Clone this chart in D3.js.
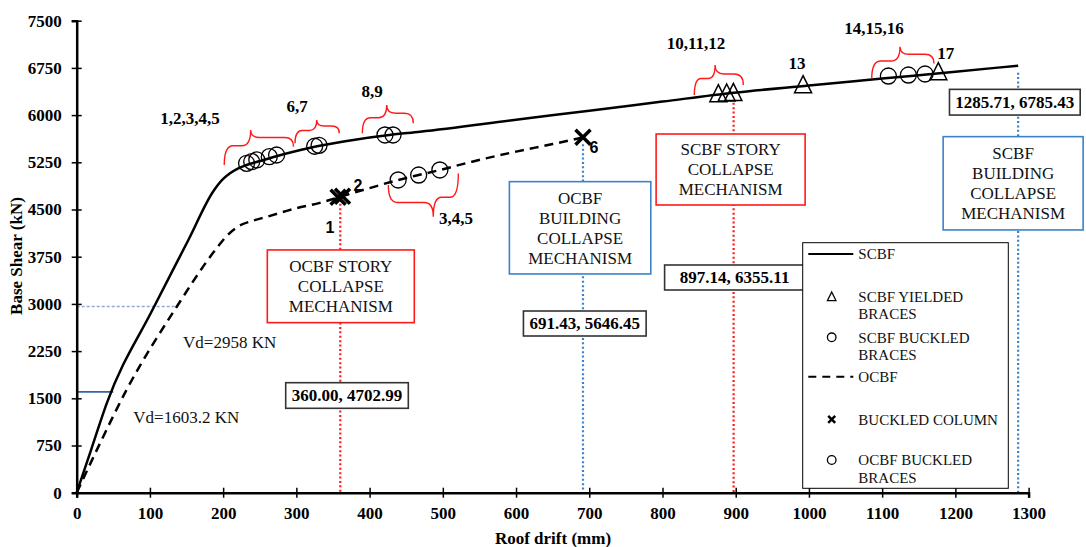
<!DOCTYPE html>
<html>
<head>
<meta charset="utf-8">
<script src="https://cdn.jsdelivr.net/npm/d3@7"></script>
<style>
  body { margin: 0; background: #fff; }
  text { font-family: "Liberation Serif", "Times New Roman", serif; }
</style>
</head>
<body>
<script>
// pushover curves (roof drift mm, base shear kN)
const scbfDrift = [0, 20, 41, 104.6, 152.5, 186.6, 200, 209.4, 220, 232, 250, 275, 300, 330, 380, 427, 469, 600, 700, 800, 897.14, 1000, 1100, 1200, 1285.71];
const scbfShear = [0, 693, 1420, 2930, 4015, 4790, 4985, 5075, 5150, 5207, 5270, 5355, 5430, 5510, 5610, 5684, 5736, 5926, 6070, 6215, 6355.11, 6470, 6580, 6690, 6785.43];
const ocbfDrift = [0, 30, 68, 136.6, 189, 205, 220, 240, 260, 300, 332, 360, 400, 439, 467, 496, 540, 600, 650, 691.43];
const ocbfShear = [0, 740, 1632, 2955, 3853, 4080, 4226, 4320, 4385, 4520, 4605, 4703, 4840, 4969, 5048, 5128, 5260, 5420, 5540, 5646.45];

// events on the curves
const yieldDrift = [876.3, 887.7, 896.8, 992, 1176.7];
const yieldShear = [6335, 6345, 6355, 6478, 6685];
const scbfBuckDrift = [232, 239, 246, 263, 273, 325, 331, 421, 432, 1108.5, 1135.8, 1158.6];
const scbfBuckShear = [5234, 5260, 5287, 5339, 5366, 5505, 5520, 5684, 5684, 6621, 6637, 6653];
const ocbfBuckDrift = [439, 467, 496];
const ocbfBuckShear = [4969, 5048, 5128];
const columnDrift = [357, 363, 691.43];
const columnShear = [4695, 4712, 5646.45];

// event numbering
const groupText = ["1,2,3,4,5", "6,7", "8,9", "3,4,5", "10,11,12", "13", "14,15,16", "17"];
const groupDrift = [154.7, 300.9, 403.3, 518, 845.8, 983.7, 1088.9, 1186.7];
const groupShear = [5953, 6145, 6383, 4362, 7146, 6828, 7384, 6987];
const columnText = ["1", "2", "6"];
const columnLabelDrift = [345.9, 384.2, 706.5];
const columnLabelShear = [4222, 4889, 5493];

// braces: left end, right end, tip (drift, shear)
const braceLeft = [[201.5, 5207], [298.1, 5552], [390.1, 5711], [425.6, 4889], [843.5, 6319], [1085.8, 6580]];
const braceRight = [[296.2, 5498], [358.7, 5711], [459.7, 5870], [521.2, 5074], [910.4, 6478], [1170.8, 6819]];
const braceTip = [[237.6, 5764], [327.8, 5922], [423.4, 6160], [487.0, 4386], [871.8, 6796], [1124.4, 7087]];

// collapse mechanisms
const mechDrift = [360.00, 691.43, 897.14, 1285.71];
const mechShear = [4702.99, 5646.45, 6355.11, 6785.43];
const mechTitle = [
  ["OCBF STORY", "COLLAPSE", "MECHANISM"],
  ["OCBF", "BUILDING", "COLLAPSE", "MECHANISM"],
  ["SCBF STORY", "COLLAPSE", "MECHANISM"],
  ["SCBF", "BUILDING", "COLLAPSE", "MECHANISM"]
];
const mechKind = ["story", "building", "story", "building"];

// design base shears
const vdShear = [1603.2, 2958];
const vdEnd = [50, 136.6];
const vdText = ["Vd=1603.2 KN", "Vd=2958 KN"];
const vdTextDrift = [77.3, 145.2];
const vdTextShear = [1208, 2399];

const xTicks = d3.range(0, 1301, 100);
const yTicks = d3.range(0, 7501, 750);

const RED = "#ff1a1a";
const BLUE = "#3b82c8";

const svg = d3.select("body").append("svg")
  .attr("width", 1086)
  .attr("height", 547);

const x = d3.scaleLinear().domain([0, 1300]).range([76.7, 1028.6]);
const y = d3.scaleLinear().domain([0, 7500]).range([492.7, 20.7]);

// mechanism dotted lines
mechDrift.forEach((d, i) => {
  svg.append("line")
    .attr("x1", x(d)).attr("x2", x(d))
    .attr("y1", y(mechShear[i]) + (i === 2 ? 10 : 7)).attr("y2", y(0))
    .attr("stroke", mechKind[i] === "story" ? RED : BLUE)
    .attr("stroke-width", 2.2)
    .attr("stroke-dasharray", "2,2.4");
});

// boxes (layout in px: offset from line, center y, size)
const titleBox = [[0.5, 286.3, 147, 72.7], [-2.9, 227.8, 141.4, 92.3], [-3, 169.5, 149, 71], [-5, 183.3, 140, 93.3]];
const valueBox = [[6.7, 395.5, 122.6, 25.6], [1.8, 323.5, 122.7, 25], [1, 277.5, 140, 25], [-3.3, 102.2, 130.7, 25.7]];

mechDrift.forEach((d, i) => {
  const [dx, cy, w, h] = titleBox[i];
  const cx = x(d) + dx;
  svg.append("rect")
    .attr("x", cx - w / 2).attr("y", cy - h / 2)
    .attr("width", w).attr("height", h)
    .attr("fill", "#fff")
    .attr("stroke", mechKind[i] === "story" ? RED : BLUE)
    .attr("stroke-width", 1.6);
  const lines = mechTitle[i];
  lines.forEach((t, j) => {
    svg.append("text")
      .attr("x", cx)
      .attr("y", cy + (j - (lines.length - 1) / 2) * 20)
      .attr("dy", "0.35em")
      .attr("text-anchor", "middle")
      .style("font-size", "17px")
      .attr("fill", "#111")
      .text(t);
  });

  const [vdx, vcy, vw, vh] = valueBox[i];
  const vcx = x(d) + vdx;
  svg.append("rect")
    .attr("x", vcx - vw / 2).attr("y", vcy - vh / 2)
    .attr("width", vw).attr("height", vh)
    .attr("fill", "#fff")
    .attr("stroke", "#333")
    .attr("stroke-width", 1.6);
  svg.append("text")
    .attr("x", vcx).attr("y", vcy)
    .attr("dy", "0.35em")
    .attr("text-anchor", "middle")
    .style("font-size", "17px")
    .style("font-weight", "bold")
    .text(d3.format(".2f")(d) + ", " + d3.format(".2f")(mechShear[i]));
});

// design shear lines
svg.append("line")
  .attr("x1", x(0)).attr("x2", x(vdEnd[0]))
  .attr("y1", y(vdShear[0])).attr("y2", y(vdShear[0]))
  .attr("stroke", "#3465a4").attr("stroke-width", 1.8);
svg.append("line")
  .attr("x1", x(0)).attr("x2", x(vdEnd[1]))
  .attr("y1", y(vdShear[1])).attr("y2", y(vdShear[1]))
  .attr("stroke", "#8eaad6").attr("stroke-width", 1.4)
  .attr("stroke-dasharray", "3,2");
vdText.forEach((t, i) => {
  svg.append("text")
    .attr("x", x(vdTextDrift[i])).attr("y", y(vdTextShear[i]))
    .attr("dy", "0.35em")
    .style("font-size", "17px")
    .attr("fill", "#111")
    .text(t);
});

// curves
const line = d3.line()
  .x(d => x(d[0]))
  .y(d => y(d[1]))
  .curve(d3.curveMonotoneX);

svg.append("path")
  .attr("d", line(scbfDrift.map((d, i) => [d, scbfShear[i]])))
  .attr("fill", "none").attr("stroke", "#000").attr("stroke-width", 2.5);
svg.append("path")
  .attr("d", line(ocbfDrift.map((d, i) => [d, ocbfShear[i]])))
  .attr("fill", "none").attr("stroke", "#000").attr("stroke-width", 2.5)
  .attr("stroke-dasharray", "9,6");

// markers
const tri = (cx, cy, s) => `M${cx},${cy - s * 0.55} L${cx + s / 2},${cy + s * 0.45} L${cx - s / 2},${cy + s * 0.45} Z`;
const cross = (cx, cy, s) => `M${cx - s},${cy - s} L${cx + s},${cy + s} M${cx - s},${cy + s} L${cx + s},${cy - s}`;

scbfBuckDrift.forEach((d, i) => {
  svg.append("circle")
    .attr("cx", x(d)).attr("cy", y(scbfBuckShear[i])).attr("r", 8)
    .attr("fill", "none").attr("stroke", "#000").attr("stroke-width", 1.3);
});
ocbfBuckDrift.forEach((d, i) => {
  svg.append("circle")
    .attr("cx", x(d)).attr("cy", y(ocbfBuckShear[i])).attr("r", 8)
    .attr("fill", "none").attr("stroke", "#000").attr("stroke-width", 1.3);
});
yieldDrift.forEach((d, i) => {
  svg.append("path")
    .attr("d", tri(x(d), y(yieldShear[i]), 17))
    .attr("fill", "none").attr("stroke", "#000").attr("stroke-width", 1.5);
});
columnDrift.forEach((d, i) => {
  svg.append("path")
    .attr("d", cross(x(d), y(columnShear[i]), 7.5))
    .attr("fill", "none").attr("stroke", "#000").attr("stroke-width", 3.5);
});

// braces
function bracePath(L, R, T) {
  const sL = L[1] + (T[1] - L[1]) * 0.55;
  const sR = R[1] + (T[1] - R[1]) * 0.55;
  const a = Math.min(9, (T[0] - L[0]) / 3);
  const b = Math.min(9, (R[0] - T[0]) / 3);
  return `M${L[0]},${L[1]} Q${L[0]},${sL} ${L[0] + a},${sL} L${T[0] - a},${sL} Q${T[0]},${sL} ${T[0]},${T[1]}` +
    ` Q${T[0]},${sR} ${T[0] + b},${sR} L${R[0] - b},${sR} Q${R[0]},${sR} ${R[0]},${R[1]}`;
}
braceLeft.forEach((l, i) => {
  const L = [x(l[0]), y(l[1])];
  const R = [x(braceRight[i][0]), y(braceRight[i][1])];
  const T = [x(braceTip[i][0]), y(braceTip[i][1])];
  svg.append("path")
    .attr("d", bracePath(L, R, T))
    .attr("fill", "none").attr("stroke", RED).attr("stroke-width", 1.4);
});

// labels
groupText.forEach((t, i) => {
  svg.append("text")
    .attr("x", x(groupDrift[i])).attr("y", y(groupShear[i]))
    .attr("dy", "0.35em")
    .attr("text-anchor", "middle")
    .style("font-size", "17px")
    .style("font-weight", "bold")
    .text(t);
});
columnText.forEach((t, i) => {
  svg.append("text")
    .attr("x", x(columnLabelDrift[i])).attr("y", y(columnLabelShear[i]))
    .attr("dy", "0.35em")
    .attr("text-anchor", "middle")
    .style("font-family", "'Liberation Sans', Arial, sans-serif")
    .style("font-size", "16px")
    .style("font-weight", "bold")
    .text(t);
});

// axes
const xAxis = svg.append("g")
  .attr("transform", `translate(0,${y(0)})`)
  .call(d3.axisBottom(x).tickValues(xTicks).tickFormat(d3.format("d"))
    .tickSizeOuter(0).tickSize(5).tickPadding(9));
const yAxis = svg.append("g")
  .attr("transform", `translate(${x(0)},0)`)
  .call(d3.axisLeft(y).tickValues(yTicks).tickFormat(d3.format("d"))
    .tickSizeOuter(0).tickSize(5).tickPadding(10));

[xAxis, yAxis].forEach(g => {
  g.attr("font-family", null);
  g.select(".domain").attr("stroke", "#000").attr("stroke-width", 2.5);
  g.selectAll(".tick line").attr("stroke", "#000").attr("stroke-width", 1.5);
  g.selectAll(".tick text")
    .style("font-family", "'Liberation Serif', 'Times New Roman', serif")
    .style("font-size", "17px")
    .style("font-weight", "bold")
    .attr("fill", "#000");
});
xAxis.selectAll(".tick line").attr("y1", -5).attr("y2", 5);
yAxis.selectAll(".tick line").attr("x1", -5).attr("x2", 5);

svg.append("text")
  .attr("x", 553).attr("y", 538)
  .attr("dy", "0.35em")
  .attr("text-anchor", "middle")
  .style("font-size", "17px").style("font-weight", "bold")
  .text("Roof drift (mm)");
svg.append("text")
  .attr("transform", "translate(16,256) rotate(-90)")
  .attr("dy", "0.35em")
  .attr("text-anchor", "middle")
  .style("font-size", "17px").style("font-weight", "bold")
  .text("Base Shear (kN)");

// legend
const legend = svg.append("g");
legend.append("rect")
  .attr("x", 802.7).attr("y", 242.7)
  .attr("width", 205.6).attr("height", 245.6)
  .attr("fill", "#fff").attr("stroke", "#000").attr("stroke-width", 1);

const legendItems = [
  { type: "solid", lines: ["SCBF"], y: 254 },
  { type: "tri", lines: ["SCBF YIELDED", "BRACES"], y: 296.7 },
  { type: "circle", lines: ["SCBF BUCKLED", "BRACES"], y: 337.3 },
  { type: "dash", lines: ["OCBF"], y: 376.7 },
  { type: "cross", lines: ["BUCKLED COLUMN"], y: 419.3 },
  { type: "circle", lines: ["OCBF BUCKLED", "BRACES"], y: 460 }
];
legendItems.forEach(it => {
  if (it.type === "solid" || it.type === "dash") {
    legend.append("line")
      .attr("x1", 808.3).attr("x2", 853.3)
      .attr("y1", it.y).attr("y2", it.y)
      .attr("stroke", "#000").attr("stroke-width", 2)
      .attr("stroke-dasharray", it.type === "dash" ? "8,6" : null);
  } else if (it.type === "tri") {
    legend.append("path").attr("d", tri(831.7, it.y, 8.5))
      .attr("fill", "none").attr("stroke", "#000").attr("stroke-width", 1.3);
  } else if (it.type === "circle") {
    legend.append("circle").attr("cx", 831.7).attr("cy", it.y).attr("r", 4.3)
      .attr("fill", "none").attr("stroke", "#000").attr("stroke-width", 1.3);
  } else {
    legend.append("path").attr("d", cross(831.7, it.y, 3.5))
      .attr("fill", "none").attr("stroke", "#000").attr("stroke-width", 2.5);
  }
  it.lines.forEach((t, j) => {
    legend.append("text")
      .attr("x", 858.3).attr("y", it.y + j * 17.5)
      .attr("dy", "0.35em")
      .style("font-size", "15px")
      .attr("fill", "#111")
      .text(t);
  });
});
</script>
</body>
</html>
